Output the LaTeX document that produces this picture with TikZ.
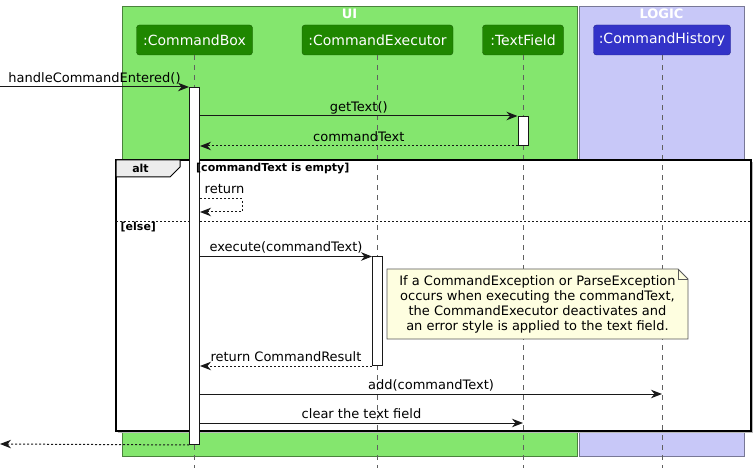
\documentclass[tikz,border=0pt]{standalone}
\usepackage{fontspec}
\setmainfont{DejaVu Sans}
\usetikzlibrary{arrows.meta}
\usetikzlibrary{calc}

\definecolor{uigreen}{RGB}{132,230,110}
\definecolor{uiborder}{RGB}{74,130,60}
\definecolor{partgreen}{RGB}{31,135,0}
\definecolor{logicblue}{RGB}{200,200,248}
\definecolor{logicborder}{RGB}{120,120,150}
\definecolor{partblue}{RGB}{51,51,200}
\definecolor{notefill}{RGB}{254,254,224}
\definecolor{ink}{RGB}{24,24,24}

\tikzset{
	part/.style={draw, rounded corners=3pt, minimum height=30pt, inner sep=0pt, text=white, font=\fontsize{14}{16}\selectfont},
	lifeline/.style={draw=gray!75!black, dash pattern=on 5pt off 5pt, line width=0.8pt},
	actbar/.style={draw=ink, fill=white, minimum width=10pt, inner sep=0pt, anchor=north, line width=1pt},
	call/.style={ink, line width=1pt, -{Stealth[length=11pt,width=8.5pt,inset=3.5pt]}},
	reply/.style={call, dash pattern=on 2pt off 2pt},
	lbl/.style={above, inner sep=1pt, text depth=3pt, text=black, font=\fontsize{13}{15}\selectfont},
	guard/.style={inner sep=0pt, text=black, font=\bfseries\fontsize{11}{13}\selectfont},
	boxtitle/.style={inner sep=0pt, text=white, font=\bfseries\fontsize{13}{15}\selectfont}
}

\newcommand{\participant}[5] % name, x in pt, width in pt, colour, label
{
	% head box
	\node[part, fill=#4, draw=#4!70!black, minimum width=#3pt] (#1) at (#2,40) {#5};
	% lifeline down to the bottom edge
	\draw[lifeline] (#1.south) -- (#1.south |- bottom);
}

\begin{document}
\begin{tikzpicture}[x=1pt, y=-1pt]
	% 756 x 468, y grows downwards
	\useasboundingbox (0,0) rectangle (756,468);
	\coordinate (bottom) at (0,468);

	% boxes
	\draw[fill=uigreen, draw=uiborder] (122.5,6) rectangle (577,456);
	\draw[fill=logicblue, draw=logicborder] (579,6) rectangle (744,456);
	\node[boxtitle] (uititle) at (349.5,14) {UI};
	\node[boxtitle] (logictitle) at (661.5,14) {LOGIC};

	% alt frame, shadow and white inside
	\fill[gray!55] (118,162) rectangle (753,433);
	\fill[white] (116,160) rectangle (751,431);

	% participants
	\participant{cmdbox}{194.5}{116}{partgreen}{:CommandBox}
	\participant{cmdexec}{377.5}{151}{partgreen}{:CommandExecutor}
	\participant{txtfield}{523}{81}{partgreen}{:TextField}
	\participant{cmdhist}{662}{137}{partblue}{:CommandHistory}

	% alt frame border
	\draw[line width=1.5pt] (116,160) rectangle (751,431);
	\draw[fill=gray!15, line width=1pt] (116,160) -- (180,160) -- (180,167) -- (170,177) -- (116,177) -- cycle;
	\draw[ink, line width=0.8pt, dash pattern=on 2pt off 2pt] (116,221) -- (751,221);

	% activations
	\node[actbar, minimum height=357pt] (cmdboxact) at (194.5,87) {};
	\node[actbar, minimum height=29pt] (txtfieldact) at (523,116) {};
	\node[actbar, minimum height=108.5pt] (cmdexecact) at (377.5,256.5) {};

	% guards, on top of the bars
	\node[guard] (alttag) at (140.5,168.5) {alt};
	\node[guard, anchor=west] (ifguard) at (196,169) {[commandText is empty]};
	\node[guard, anchor=west] (elseguard) at (120.5,227.5) {[else]};

	% note
	\draw[fill=notefill, draw=gray!70!black, line width=0.8pt] (387,269) -- (678,269) -- (688,279) -- (688,339) -- (387,339) -- cycle;
	\draw[draw=gray!70!black, line width=0.8pt] (678,269) -- (678,279) -- (688,279);
	\node[align=center, inner sep=0pt, font=\fontsize{13}{15}\selectfont] (note) at (537.5,304.5)
		{If a CommandException or ParseException\\occurs when executing the commandText,\\the CommandExecutor deactivates and\\an error style is applied to the text field.};

	% message rows
	\coordinate (start) at (0,87);
	\coordinate (finish) at (0,444);
	\coordinate (retup) at (0,199);
	\coordinate (retdown) at (0,212);
	\coordinate (addrow) at (0,394);
	\coordinate (clearrow) at (0,423);

	% messages
	\draw[call] (start) -- node[lbl] (lhandle) {handleCommandEntered()} (cmdboxact.north west);
	\draw[call] (cmdboxact.east |- txtfieldact.north) -- node[lbl] (lgettext) {getText()} (txtfieldact.north west);
	\draw[reply] (txtfieldact.south west) -- node[lbl] (lcmdtext) {commandText} (cmdboxact.east |- txtfieldact.south);
	\draw[reply] (cmdboxact.east |- retup) -- ++(42,0) |- (cmdboxact.east |- retdown);
	\node[anchor=west, inner sep=0pt, font=\fontsize{13}{15}\selectfont] (lreturn) at (204.5,189) {return};
	\draw[call] (cmdboxact.east |- cmdexecact.north) -- node[lbl] (lexec) {execute(commandText)} (cmdexecact.north west);
	\draw[reply] (cmdexecact.south west) -- node[lbl] (lresult) {return CommandResult} (cmdboxact.east |- cmdexecact.south);
	\draw[call] (cmdboxact.east |- addrow) -- node[lbl] (ladd) {add(commandText)} (cmdhist |- addrow);
	\draw[call] (cmdboxact.east |- clearrow) -- node[lbl] (lclear) {clear the text field} (txtfield |- clearrow);
	\draw[reply] (cmdboxact.south west) -- (finish);
\end{tikzpicture}
\end{document}
